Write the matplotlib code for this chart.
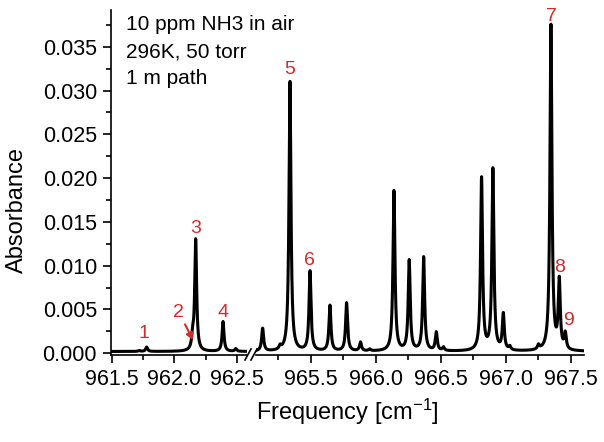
import numpy as np
import matplotlib
matplotlib.use("Agg")
import matplotlib.pyplot as plt
from matplotlib.lines import Line2D
from matplotlib.ticker import MultipleLocator, FormatStrFormatter

plt.rcParams['font.family'] = ['Liberation Sans', 'DejaVu Sans']
plt.rcParams['mathtext.default'] = 'regular'

# ---- data: line positions (cm^-1) and peak absorbance ----
left_centers = [961.72, 961.779, 962.146, 962.170, 962.388, 962.49]
left_heights = [0.0001, 0.0005, 0.0014, 0.0127, 0.0034, 0.0003]

right_centers = [965.131, 965.265, 965.341, 965.495, 965.648, 965.776, 965.883,
                 965.953, 966.140, 966.257, 966.368, 966.465, 966.52, 966.813,
                 966.900, 966.980, 967.03, 967.25, 967.346, 967.410, 967.456]
right_heights = [0.0026, 0.0004, 0.0308, 0.0091, 0.0052, 0.0055, 0.0010,
                 0.0002, 0.0183, 0.0103, 0.0107, 0.0021, 0.0004, 0.0197,
                 0.0207, 0.0041, 0.0004, 0.0005, 0.0372, 0.0078, 0.0018]
half_width = 0.009      # Lorentzian HWHM, cm^-1
baseline = 0.0002

labels = ['1', '2', '3', '4', '5', '6', '7', '8', '9']
label_x = [961.76, 962.03, 962.17, 962.39, 965.341, 965.49, 967.346, 967.41, 967.48]
label_y = [0.0023, 0.0047, 0.0142, 0.0046, 0.0324, 0.0106, 0.0385, 0.0098, 0.0037]
label_ax = [0, 0, 0, 0, 1, 1, 1, 1, 1]

info_lines = ['10 ppm NH3 in air', '296K, 50 torr', '1 m path']


def spectrum(x, centers, heights):
    y = np.full_like(x, baseline)
    for c, h in zip(centers, heights):
        y += h * half_width**2 / ((x - c)**2 + half_width**2)
    return y


W, H = 604, 442
fig = plt.figure(figsize=(W / 100, H / 100), dpi=100)
y_bot, y_top = 355, 10
b = (H - y_bot) / H
h = (y_bot - y_top) / H
ax1 = fig.add_axes([111 / W, b, (247 - 111) / W, h])
ax2 = fig.add_axes([256 / W, b, (584 - 256) / W, h])

xl1 = (961.495, 962.579)
xl2 = (965.08, 967.60)
ylim = (-0.0002, 0.0392)

x1 = np.linspace(xl1[0], xl1[1], 4000)
x2 = np.linspace(xl2[0], xl2[1], 8000)
ax1.plot(x1, spectrum(x1, left_centers, left_heights), color='black', lw=2.2)
ax2.plot(x2, spectrum(x2, right_centers, right_heights), color='black', lw=2.2)

for ax, xl in ((ax1, xl1), (ax2, xl2)):
    ax.set_xlim(*xl)
    ax.set_ylim(*ylim)
    ax.spines['top'].set_visible(False)
    ax.spines['right'].set_visible(False)
    ax.xaxis.set_major_locator(MultipleLocator(0.5))
    ax.xaxis.set_minor_locator(MultipleLocator(0.25))
    ax.xaxis.set_major_formatter(FormatStrFormatter('%.1f'))
    ax.tick_params(axis='both', which='major', direction='out', length=6, width=1.2,
                   labelsize=15.5, pad=4)
    ax.tick_params(axis='both', which='minor', direction='out', length=3.5, width=1.2)
    for s in ax.spines.values():
        s.set_linewidth(1.2)
    ax.patch.set_alpha(0)

ax1.yaxis.set_major_locator(MultipleLocator(0.005))
ax1.yaxis.set_minor_locator(MultipleLocator(0.0025))
ax1.yaxis.set_major_formatter(FormatStrFormatter('%.3f'))
ax2.spines['left'].set_visible(False)
ax2.tick_params(axis='y', which='both', left=False, labelleft=False)

fig.text(17 / W, 1 - 210 / H, 'Absorbance', fontsize=17, rotation=90,
         ha='center', va='center')
fig.text((111 + 584) / 2 / W, 1 - 412 / H, 'Frequency [cm$^{-1}$]', fontsize=17,
         ha='center', va='center')

red = '#d42a2a'
axes = [ax1, ax2]
for t, lx, ly, ai in zip(labels, label_x, label_y, label_ax):
    axes[ai].text(lx, ly, t, color=red, fontsize=14, ha='center', va='center')

# arrow for line 2
ax1.annotate('', xy=(962.148, 0.0015), xytext=(962.085, 0.0033),
             arrowprops=dict(arrowstyle='-|>', color=red, lw=1.5, mutation_scale=10,
                             shrinkA=0, shrinkB=0))

for i, t in enumerate(info_lines):
    fig.text(126 / W, 1 - (25 + 26.5 * i) / H, t, fontsize=15, ha='left', va='center')

# axis break marks
for x0 in (245, 251):
    fig.add_artist(Line2D([x0 / W, (x0 + 6) / W], [1 - 360 / H, 1 - 349 / H],
                          color='black', lw=1.2))

fig.savefig('out.png', dpi=100)
